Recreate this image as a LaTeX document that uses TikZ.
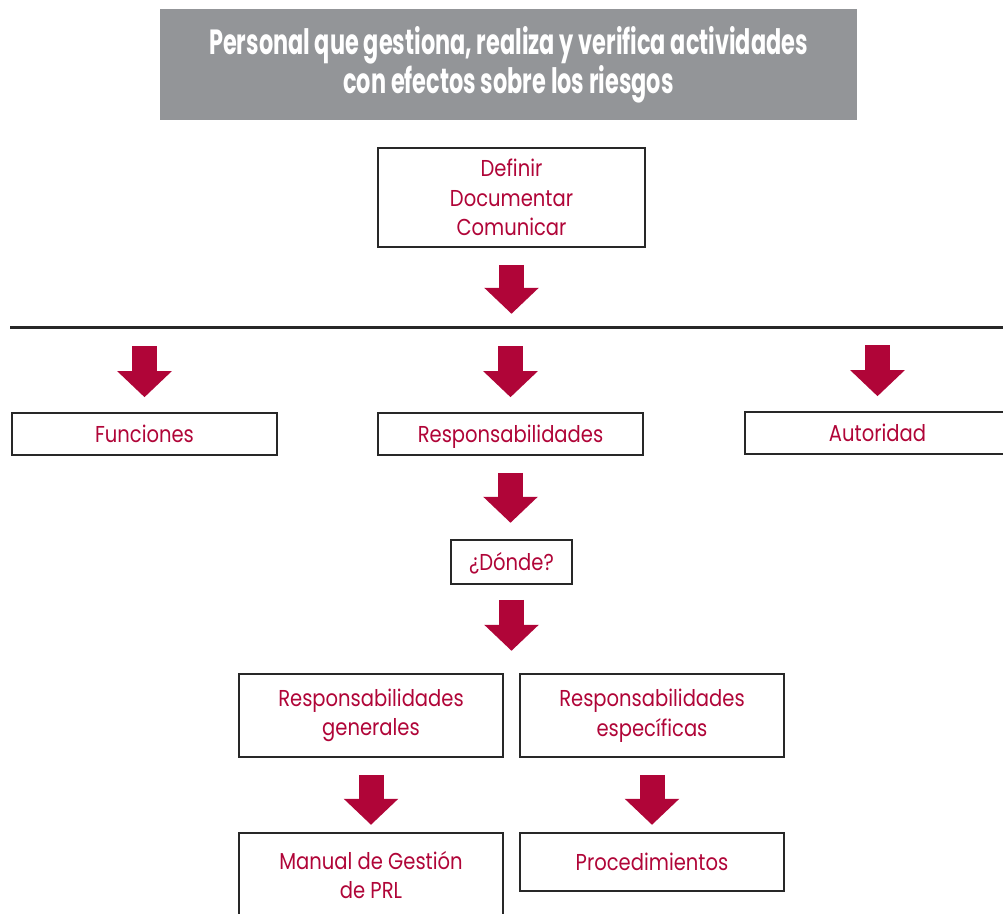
\documentclass[tikz,border=0pt]{standalone}
\usepackage{fontspec}
\usepackage{tikz}
\usetikzlibrary{arrows.meta,positioning}

\newfontfamily\bodyfont[FakeStretch=0.85]{Poppins}
\newfontfamily\headfont[FakeStretch=0.64]{Poppins}

\definecolor{prlred}{RGB}{176,5,56}
\definecolor{headgray}{RGB}{147,149,152}
\definecolor{boxline}{RGB}{40,40,40}

\tikzset{
  box/.style={draw=boxline, line width=1.6pt, align=center, text=prlred,
    font=\bodyfont\fontsize{23}{29.5}\selectfont, inner sep=0pt},
  oneline/.style={text height=16pt, text depth=0pt},
  bigarrow/.style={draw=prlred, line width=25pt,
    -{Triangle[width=53pt,length=26pt]}}
}

\begin{document}
\begin{tikzpicture}[x=1pt,y=-1pt]
  \useasboundingbox (0,0) rectangle (1003,913);

  % heading band
  \node[fill=headgray, minimum width=697pt, minimum height=111pt, inner sep=0pt,
        text=white, align=center, font=\headfont\bfseries\fontsize{35}{39}\selectfont]
        (head) at (508.5,64.5) {Personal que gestiona, realiza y verifica actividades\\
                                con efectos sobre los riesgos};

  \node[box, minimum width=267pt, minimum height=99pt] (defin) at (511.5,197.5)
        {Definir\\Documentar\\Comunicar};

  % dividing line
  \coordinate (barL) at (10,327);
  \coordinate (barR) at (1010,327);
  \draw[boxline, line width=3pt] (barL) -- (barR);

  \node[box, oneline, minimum width=265pt, minimum height=42pt] (fun) at (144.5,434) {Funciones};
  \node[box, oneline, minimum width=265pt, minimum height=42pt] (resp) at (510.5,434) {Responsabilidades};
  \node[box, oneline, minimum width=265pt, minimum height=42pt] (aut) at (877.5,433) {Autoridad};

  \node[box, oneline, minimum width=121pt, minimum height=44pt] (donde) at (511.5,562) {¿Dónde?};

  \node[box, minimum width=264pt, minimum height=83pt] (rgen) at (371,715.5)
        {Responsabilidades\\generales};
  \node[box, minimum width=264pt, minimum height=83pt] (resp2) at (652,715.5)
        {Responsabilidades\\específicas};

  \node[box, minimum width=264pt, minimum height=84pt] (man) at (371,875)
        {Manual de Gestión\\de PRL};
  \node[box, oneline, minimum width=264pt, minimum height=58pt] (proc) at (652,862)
        {Procedimientos};

  % block arrows
  \draw[bigarrow] ([yshift=-17pt]defin.south) -- ([yshift=-66pt]defin.south);
  \foreach \n in {fun,resp,aut}
    \draw[bigarrow] ([yshift=66pt]\n.north) -- ([yshift=15pt]\n.north);
  \draw[bigarrow] ([yshift=-17pt]resp.south) -- ([yshift=-67pt]resp.south);
  \draw[bigarrow] ([yshift=-15pt]donde.south) -- ([yshift=-66pt]donde.south);
  \draw[bigarrow] ([yshift=-17pt]rgen.south) -- ([yshift=-67pt]rgen.south);
  \draw[bigarrow] ([yshift=-17pt]resp2.south) -- ([yshift=-67pt]resp2.south);
\end{tikzpicture}
\end{document}
